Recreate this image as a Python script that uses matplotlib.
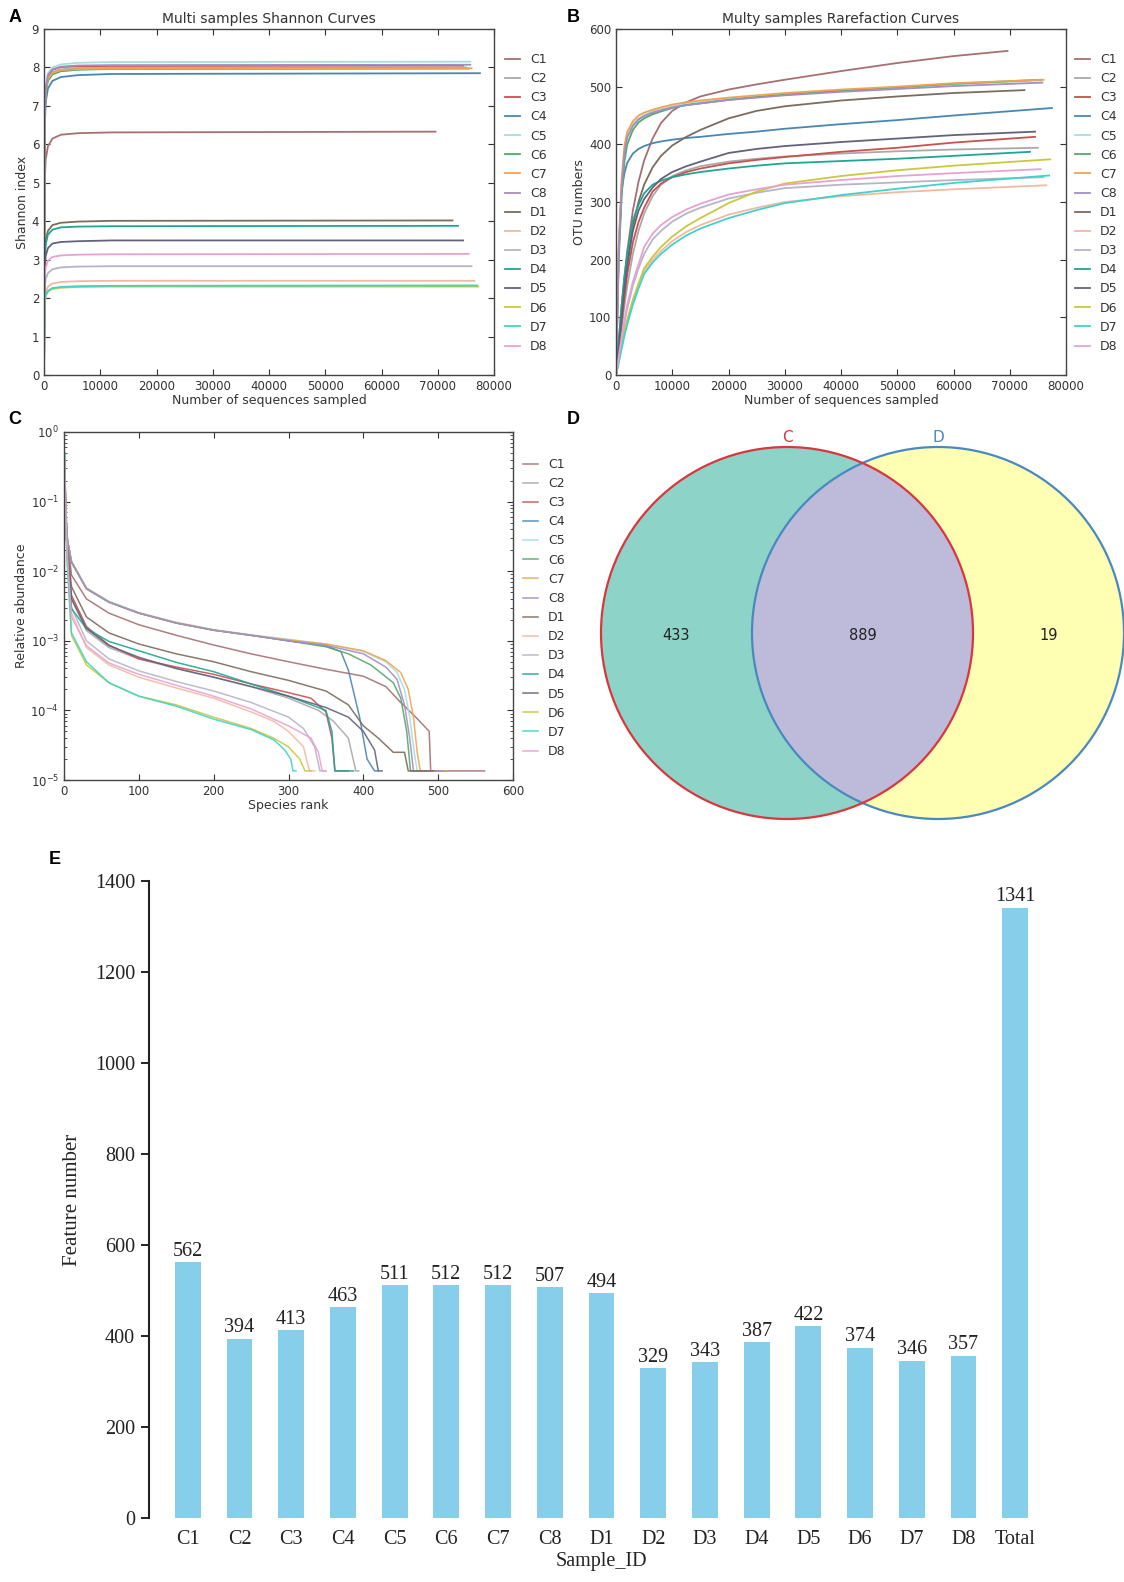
import matplotlib
matplotlib.use('Agg')
import matplotlib.pyplot as plt
from matplotlib.patches import Circle

# ---------------- data ----------------
samples = ['C1', 'C2', 'C3', 'C4', 'C5', 'C6', 'C7', 'C8',
           'D1', 'D2', 'D3', 'D4', 'D5', 'D6', 'D7', 'D8']
line_colors = ['#a86f72', '#a9a9a9', '#c9514f', '#4a86b4', '#a6dede', '#55a868',
               '#f0a450', '#a48cc4', '#7d6b5d', '#f2b9a2', '#b5b5c8', '#1fa594',
               '#62637a', '#c9c83e', '#3fd3c9', '#e8a2d2']

# sequencing depth reached by every sample
sample_depth = [69600, 75000, 74500, 77500, 75800, 75500, 76000, 75800,
                72600, 76500, 76000, 73600, 74500, 77200, 77000, 75500]

# A: Shannon rarefaction
shannon_depths = [0, 100, 300, 700, 1500, 3000, 6000, 12000]
shannon_values = [
    [0, 4.9, 5.6, 5.95, 6.15, 6.25, 6.29, 6.31, 6.33],
    [0, 6.5, 7.35, 7.7, 7.88, 7.95, 7.98, 7.99, 8.00],
    [0, 6.6, 7.45, 7.78, 7.94, 8.01, 8.03, 8.04, 8.05],
    [0, 6.3, 7.1, 7.45, 7.65, 7.75, 7.8, 7.83, 7.85],
    [0, 6.7, 7.5, 7.85, 8.0, 8.08, 8.12, 8.14, 8.15],
    [0, 6.5, 7.3, 7.65, 7.82, 7.9, 7.94, 7.96, 7.97],
    [0, 6.6, 7.4, 7.7, 7.86, 7.93, 7.96, 7.97, 7.98],
    [0, 6.6, 7.45, 7.8, 7.95, 8.02, 8.05, 8.06, 8.07],
    [0, 3.0, 3.5, 3.75, 3.9, 3.96, 3.99, 4.01, 4.02],
    [0, 1.9, 2.15, 2.3, 2.38, 2.42, 2.44, 2.45, 2.45],
    [0, 2.2, 2.5, 2.65, 2.75, 2.8, 2.82, 2.83, 2.83],
    [0, 2.9, 3.4, 3.65, 3.78, 3.84, 3.86, 3.87, 3.88],
    [0, 2.7, 3.1, 3.3, 3.42, 3.46, 3.48, 3.5, 3.5],
    [0, 1.8, 2.05, 2.17, 2.24, 2.27, 2.29, 2.3, 2.3],
    [0, 1.85, 2.07, 2.19, 2.26, 2.29, 2.31, 2.32, 2.33],
    [0, 2.5, 2.8, 2.97, 3.07, 3.11, 3.13, 3.14, 3.15],
]

# B: OTU rarefaction
otu_depths = [0, 250, 500, 1000, 1500, 2000, 3000, 4000, 5000, 6500, 8000,
              10000, 12500, 15000, 20000, 25000, 30000, 40000, 50000, 60000]
otu_values = [
    [0, 30, 60, 120, 170, 215, 285, 335, 372, 410, 437, 458, 473, 483, 495, 504, 512, 527, 541, 553, 562],
    [0, 20, 40, 80, 120, 155, 210, 250, 280, 310, 330, 345, 355, 362, 370, 375, 379, 384, 388, 391, 394],
    [0, 22, 45, 90, 135, 175, 230, 265, 290, 318, 332, 343, 352, 358, 367, 373, 378, 387, 394, 403, 413],
    [0, 120, 220, 320, 350, 368, 384, 392, 397, 402, 405, 408, 411, 413, 418, 422, 427, 435, 442, 450, 463],
    [0, 110, 220, 330, 390, 415, 435, 445, 451, 457, 461, 466, 470, 473, 479, 483, 487, 493, 498, 504, 511],
    [0, 100, 200, 310, 370, 400, 425, 438, 445, 452, 457, 463, 468, 471, 477, 482, 486, 493, 499, 505, 512],
    [0, 115, 230, 340, 398, 422, 440, 450, 455, 460, 464, 469, 473, 476, 481, 485, 489, 495, 500, 506, 512],
    [0, 110, 215, 325, 385, 412, 432, 443, 449, 455, 459, 464, 468, 471, 477, 481, 485, 491, 496, 501, 507],
    [0, 25, 50, 100, 150, 195, 260, 300, 330, 360, 380, 398, 413, 425, 445, 458, 466, 476, 483, 489, 494],
    [0, 12, 25, 50, 75, 95, 130, 158, 180, 200, 215, 232, 248, 260, 278, 290, 300, 310, 317, 322, 329],
    [0, 15, 30, 60, 90, 115, 155, 185, 210, 235, 250, 266, 280, 290, 306, 316, 324, 330, 334, 338, 343],
    [0, 30, 60, 120, 170, 210, 268, 295, 315, 330, 337, 343, 348, 352, 358, 363, 367, 371, 375, 380, 387],
    [0, 25, 50, 100, 150, 190, 250, 285, 305, 325, 340, 352, 362, 370, 385, 392, 397, 404, 410, 416, 422],
    [0, 12, 25, 50, 75, 95, 130, 158, 185, 205, 222, 240, 258, 272, 298, 318, 332, 345, 355, 363, 374],
    [0, 11, 22, 45, 68, 88, 122, 150, 175, 195, 210, 226, 242, 254, 272, 286, 298, 312, 323, 333, 346],
    [0, 16, 32, 65, 95, 122, 162, 192, 222, 245, 260, 274, 287, 297, 313, 322, 330, 338, 345, 350, 357],
]

# C: rank abundance
rank_points = [
    [1, 2, 4, 10, 30, 60, 100, 150, 200, 250, 300, 350, 400, 430, 450, 470, 488, 490, 562],
    [1, 2, 4, 10, 30, 60, 100, 150, 200, 250, 300, 340, 360, 380, 390, 394],
    [1, 2, 4, 10, 30, 60, 100, 150, 200, 250, 300, 330, 350, 358, 362, 380],
    [1, 2, 4, 10, 30, 60, 100, 150, 200, 250, 300, 350, 370, 380, 395, 405, 415, 420],
    [1, 2, 4, 10, 30, 60, 100, 150, 200, 250, 300, 350, 400, 430, 445, 455, 462, 468, 472, 511],
    [1, 2, 4, 10, 30, 60, 100, 150, 200, 250, 300, 350, 380, 410, 440, 450, 458, 463, 512],
    [1, 2, 4, 10, 30, 60, 100, 150, 200, 250, 300, 350, 400, 430, 450, 460, 467, 472, 476, 512],
    [1, 2, 4, 10, 30, 60, 100, 150, 200, 250, 300, 350, 400, 430, 445, 455, 462, 467, 507],
    [1, 2, 4, 10, 30, 60, 100, 150, 200, 250, 300, 350, 380, 400, 420, 440, 455, 460, 494],
    [1, 2, 4, 10, 30, 60, 100, 150, 200, 250, 280, 300, 320, 328, 335],
    [1, 2, 4, 10, 30, 60, 100, 150, 200, 250, 300, 320, 335, 342, 350],
    [1, 2, 4, 10, 30, 60, 100, 150, 200, 250, 300, 350, 358, 362, 387],
    [1, 2, 4, 10, 30, 60, 100, 150, 200, 250, 300, 350, 380, 400, 415, 420, 425],
    [1, 2, 4, 10, 30, 60, 100, 150, 200, 250, 280, 300, 315, 322, 330],
    [1, 2, 4, 10, 30, 60, 100, 150, 200, 250, 280, 295, 303, 306, 310],
    [1, 2, 4, 10, 30, 60, 100, 150, 200, 250, 300, 330, 340, 345, 350],
]
abundance_points = [
    [0.4, 0.12, 0.035, 8.8e-3, 4e-3, 2.5e-3, 1.7e-3, 1.2e-3, 8.7e-4, 6.5e-4, 5e-4, 3.9e-4, 3.1e-4, 2.2e-4, 1.3e-4, 8e-5, 5e-5, 1.35e-5, 1.35e-5],
    [0.35, 0.1, 0.02, 4e-3, 1.4e-3, 8e-4, 5.5e-4, 4e-4, 3e-4, 2.2e-4, 1.5e-4, 1e-4, 7e-5, 4e-5, 1.35e-5, 1.35e-5],
    [0.3, 0.1, 0.02, 4.5e-3, 1.6e-3, 8.7e-4, 5.5e-4, 4.2e-4, 3.3e-4, 2.4e-4, 1.8e-4, 1.5e-4, 9.5e-5, 4e-5, 1.35e-5, 1.35e-5],
    [0.25, 0.08, 0.03, 1.36e-2, 5.6e-3, 3.6e-3, 2.5e-3, 1.8e-3, 1.42e-3, 1.2e-3, 1.0e-3, 8.5e-4, 7e-4, 3.8e-4, 8e-5, 2e-5, 1.35e-5, 1.35e-5],
    [0.2, 0.08, 0.03, 1.4e-2, 5.8e-3, 3.7e-3, 2.55e-3, 1.85e-3, 1.45e-3, 1.22e-3, 1.05e-3, 9e-4, 7e-4, 5e-4, 3.5e-4, 2e-4, 8e-5, 2.5e-5, 1.35e-5, 1.35e-5],
    [0.22, 0.08, 0.03, 1.35e-2, 5.6e-3, 3.6e-3, 2.5e-3, 1.8e-3, 1.42e-3, 1.2e-3, 1.0e-3, 8.2e-4, 6.5e-4, 4.5e-4, 2.5e-4, 1.5e-4, 5e-5, 1.35e-5, 1.35e-5],
    [0.2, 0.08, 0.03, 1.38e-2, 5.7e-3, 3.6e-3, 2.5e-3, 1.82e-3, 1.43e-3, 1.2e-3, 1.03e-3, 9e-4, 7.2e-4, 5.2e-4, 3.5e-4, 2e-4, 8e-5, 2.5e-5, 1.35e-5, 1.35e-5],
    [0.22, 0.08, 0.03, 1.35e-2, 5.6e-3, 3.6e-3, 2.5e-3, 1.8e-3, 1.42e-3, 1.2e-3, 1.0e-3, 8.6e-4, 6.5e-4, 4.2e-4, 2.8e-4, 1.2e-4, 4e-5, 1.35e-5, 1.35e-5],
    [0.3, 0.1, 0.025, 6e-3, 2.2e-3, 1.3e-3, 9e-4, 6.5e-4, 5e-4, 3.6e-4, 2.7e-4, 1.9e-4, 1.2e-4, 6e-5, 4e-5, 2.5e-5, 2.5e-5, 1.35e-5, 1.35e-5],
    [0.4, 0.1, 0.02, 2.5e-3, 8e-4, 4.5e-4, 3e-4, 2.1e-4, 1.5e-4, 9.5e-5, 7e-5, 5e-5, 3e-5, 1.35e-5, 1.35e-5],
    [0.4, 0.1, 0.02, 3e-3, 1e-3, 5.5e-4, 3.7e-4, 2.6e-4, 1.9e-4, 1.3e-4, 8e-5, 5.5e-5, 3e-5, 1.35e-5, 1.35e-5],
    [0.3, 0.08, 0.02, 2.9e-3, 1.5e-3, 9.8e-4, 7.2e-4, 4.9e-4, 3.6e-4, 2.4e-4, 1.6e-4, 1e-4, 5e-5, 1.35e-5, 1.35e-5],
    [0.3, 0.1, 0.02, 4e-3, 1.5e-3, 8.5e-4, 5.8e-4, 4e-4, 3e-4, 2.2e-4, 1.6e-4, 1.1e-4, 8e-5, 5e-5, 2.7e-5, 1.35e-5, 1.35e-5],
    [0.5, 0.1, 0.015, 1.2e-3, 4.5e-4, 2.5e-4, 1.6e-4, 1.2e-4, 8e-5, 5.5e-5, 4e-5, 3e-5, 2e-5, 1.35e-5, 1.35e-5],
    [0.5, 0.1, 0.015, 1.3e-3, 5e-4, 2.5e-4, 1.6e-4, 1.15e-4, 7.5e-5, 5.3e-5, 3.8e-5, 2.7e-5, 2e-5, 1.35e-5, 1.35e-5],
    [0.4, 0.1, 0.02, 2.2e-3, 8.5e-4, 4.8e-4, 3.3e-4, 2.3e-4, 1.6e-4, 1.05e-4, 6e-5, 4e-5, 2.5e-5, 1.35e-5, 1.35e-5],
]

# D: Venn
venn_sets = ['C', 'D']
venn_counts = [433, 889, 19]   # C only, shared, D only

# E: feature numbers
bar_labels = samples + ['Total']
feature_counts = [562, 394, 413, 463, 511, 512, 512, 507,
                  494, 329, 343, 387, 422, 374, 346, 357, 1341]

# ---------------- layout ----------------
W, H = 1124, 1582
fig = plt.figure(figsize=(W / 100, H / 100), dpi=100)
fig.patch.set_facecolor('white')

def px_axes(left, top, right, bottom):
    return fig.add_axes([left / W, 1 - bottom / H, (right - left) / W, (bottom - top) / H])

txt = '#333333'
fs_tick = 8.5
fs_lab = 9

def style_old(ax):
    ax.tick_params(direction='in', which='both', top=True, right=True,
                   labelsize=fs_tick, colors='#333333', length=4)
    ax.tick_params(which='minor', length=2)
    for s in ax.spines.values():
        s.set_color('#444444')
        s.set_linewidth(1.0)

def add_legend(ax, x_px, y_px):
    leg = ax.legend(loc='upper left', bbox_to_anchor=(x_px / W, 1 - y_px / H),
                    bbox_transform=fig.transFigure, frameon=False, fontsize=fs_lab,
                    handlelength=1.2, handletextpad=0.8, labelspacing=0.49,
                    borderpad=0, borderaxespad=0)
    for t in leg.get_texts():
        t.set_color(txt)

# panel A
axA = px_axes(44, 29, 494, 375)
for i, name in enumerate(samples):
    xs = shannon_depths + [sample_depth[i]]
    axA.plot(xs, shannon_values[i], color=line_colors[i], lw=1.3, label=name)
axA.set_xlim(0, 80000)
axA.set_ylim(0, 9)
axA.set_xticks(range(0, 80001, 10000))
axA.set_yticks(range(0, 10))
axA.set_title('Multi samples Shannon Curves', fontsize=10, color=txt, pad=4.5)
axA.set_xlabel('Number of sequences sampled', fontsize=fs_lab, color=txt, labelpad=1)
axA.set_ylabel('Shannon index', fontsize=fs_lab, color=txt, labelpad=2)
style_old(axA)
add_legend(axA, 505, 53)

# panel B
axB = px_axes(616, 29, 1066, 375)
for i, name in enumerate(samples):
    xs = otu_depths + [sample_depth[i]]
    axB.plot(xs, otu_values[i], color=line_colors[i], lw=1.3, label=name)
axB.set_xlim(0, 80000)
axB.set_ylim(0, 600)
axB.set_xticks(range(0, 80001, 10000))
axB.set_yticks(range(0, 601, 100))
axB.set_title('Multy samples Rarefaction Curves', fontsize=10, color=txt, pad=4.5)
axB.set_xlabel('Number of sequences sampled', fontsize=fs_lab, color=txt, labelpad=1)
axB.set_ylabel('OTU numbers', fontsize=fs_lab, color=txt, labelpad=2)
style_old(axB)
add_legend(axB, 1075, 53)

# panel C
axC = px_axes(64, 432, 513, 780)
for i, name in enumerate(samples):
    axC.plot(rank_points[i], abundance_points[i], color=line_colors[i], lw=1.1,
             alpha=0.9, label=name)
axC.set_yscale('log')
axC.set_xlim(0, 600)
axC.set_ylim(1e-5, 1)
axC.set_xticks(range(0, 601, 100))
axC.set_xlabel('Species rank', fontsize=fs_lab, color=txt, labelpad=1)
axC.set_ylabel('Relative abundance', fontsize=fs_lab, color=txt, labelpad=2)
style_old(axC)
add_legend(axC, 523, 458)

# panel D: Venn
axD = px_axes(580, 420, W, 830)
axD.set_xlim(580, W)
axD.set_ylim(830, 420)
axD.axis('off')
r = 186
cC = (787, 633)
cD = (938, 633)
circC = Circle(cC, r, facecolor='#8dd3c7', edgecolor='none', zorder=1)
circD = Circle(cD, r, facecolor='#ffffb3', edgecolor='none', zorder=1)
axD.add_patch(circC)
axD.add_patch(circD)
inter = Circle(cC, r, facecolor='#bebada', edgecolor='none', zorder=2)
axD.add_patch(inter)
inter.set_clip_path(circD)
axD.add_patch(Circle(cC, r, fill=False, edgecolor='#d9363e', lw=1.6, zorder=4))
axD.add_patch(Circle(cD, r, fill=False, edgecolor='#4a88c0', lw=1.6, zorder=3))
axD.text(cC[0], cC[1] - r - 10, venn_sets[0], color='#d9363e', fontsize=11,
         ha='center', va='center')
axD.text(cD[0], cD[1] - r - 10, venn_sets[1], color='#4a88c0', fontsize=11,
         ha='center', va='center')
axD.text(676, cC[1] + 2, str(venn_counts[0]), fontsize=10.5, ha='center', va='center', color='#222222')
axD.text(863, cC[1] + 2, str(venn_counts[1]), fontsize=10.5, ha='center', va='center', color='#222222')
axD.text(1049, cC[1] + 2, str(venn_counts[2]), fontsize=10.5, ha='center', va='center', color='#222222')

# panel E: bars
serif = 'Liberation Serif'
axE = px_axes(149, 881, 1054, 1518)
pos = list(range(len(bar_labels)))
bars = axE.bar(pos, feature_counts, width=0.5, color='#87ceeb')
lbls = axE.bar_label(bars, padding=1)
for t in lbls:
    t.set_fontfamily(serif)
    t.set_fontsize(14.5)
    t.set_color('#222222')
axE.set_xlim(-0.75, len(bar_labels) - 0.25)
axE.set_ylim(0, 1400)
axE.set_yticks(range(0, 1401, 200))
axE.set_xticks(pos)
axE.set_xticklabels(bar_labels)
for s in ['top', 'right', 'bottom']:
    axE.spines[s].set_visible(False)
axE.spines['left'].set_linewidth(1.5)
axE.spines['left'].set_color('#222222')
axE.tick_params(axis='y', direction='out', length=6, width=1.2, pad=4, labelsize=14.5)
axE.tick_params(axis='x', length=0, pad=9, labelsize=14.5)
for t in axE.get_xticklabels() + axE.get_yticklabels():
    t.set_fontfamily(serif)
    t.set_color('#222222')
axE.set_xlabel('Sample_ID', fontfamily=serif, fontsize=14.5, color='#222222', labelpad=2)
axE.set_ylabel('Feature number', fontfamily=serif, fontsize=15, color='#222222', labelpad=9)

# panel letters
for letter, x, y in [('A', 15, 18), ('B', 573, 18), ('C', 15, 419), ('D', 573, 419), ('E', 55, 860)]:
    fig.text(x / W, 1 - y / H, letter, fontsize=13, fontweight='bold',
             fontfamily='Liberation Sans', ha='center', va='center')

fig.savefig('out.png', dpi=100, facecolor='white')
